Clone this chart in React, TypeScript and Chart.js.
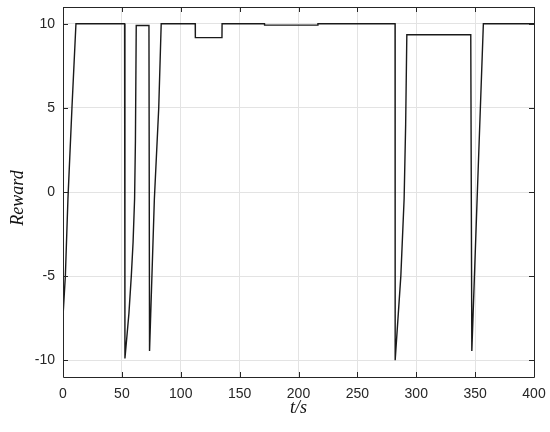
import React, { useEffect, useRef } from "react";
import { Chart, registerables } from "chart.js";

Chart.register(...registerables);

const timeValues = [
  0, 2, 4.2, 7.6, 11,
  52.3, 52.6, 54, 56, 58, 59.5, 60.8, 61.5, 62.2,
  73, 73.5, 77.6, 81.3, 83.4,
  112.3, 112.4, 135, 135.1,
  171.1, 171.2, 216.4, 216.5,
  282, 282.1, 284.5, 286.9, 289.7, 291, 292,
  346.3, 347.2, 351.7, 357, 400,
];
const rewardValues = [
  -7.4, -5, -0.4, 5, 10,
  10, -9.9, -8.8, -7.2, -5, -3, -0.4, 3, 9.9,
  9.9, -9.45, -0.4, 5, 10,
  10, 9.18, 9.18, 10,
  10, 9.92, 9.92, 10,
  10, -10, -7.5, -5, -0.4, 4, 9.35,
  9.35, -9.45, -0.4, 10, 10,
];
const xTicks = [0, 50, 100, 150, 200, 250, 300, 350, 400];
const yTicks = [-10, -5, 0, 5, 10];
const xTitle = "t/s";
const yTitle = "Reward";

const AXIS = "#262626";

const boxPlugin = {
  id: "matlabBox",
  afterDatasetsDraw(chart: any) {
    const { ctx, chartArea } = chart;
    const { left, right, top, bottom } = chartArea;
    const xs = chart.scales.x;
    const ys = chart.scales.y;
    ctx.save();
    ctx.strokeStyle = AXIS;
    ctx.lineWidth = 1;
    ctx.beginPath();
    ctx.rect(Math.round(left) + 0.5, Math.round(top) + 0.5, Math.round(right - left), Math.round(bottom - top));
    ctx.stroke();
    const tl = 5;
    ctx.beginPath();
    xTicks.forEach((v) => {
      const px = Math.round(xs.getPixelForValue(v)) + 0.5;
      ctx.moveTo(px, bottom);
      ctx.lineTo(px, bottom - tl);
      ctx.moveTo(px, top);
      ctx.lineTo(px, top + tl);
    });
    yTicks.forEach((v) => {
      const py = Math.round(ys.getPixelForValue(v)) + 0.5;
      ctx.moveTo(left, py);
      ctx.lineTo(left + tl, py);
      ctx.moveTo(right, py);
      ctx.lineTo(right - tl, py);
    });
    ctx.stroke();

    ctx.fillStyle = "#111";
    ctx.font = "italic 18px 'Liberation Serif', serif";
    ctx.textAlign = "center";
    ctx.textBaseline = "middle";
    ctx.fillText(xTitle, (left + right) / 2, 408);
    ctx.translate(18, (top + bottom) / 2 + 6);
    ctx.rotate(-Math.PI / 2);
    ctx.fillText(yTitle, 0, 0);
    ctx.restore();
  },
};

export default function App() {
  const ref = useRef<HTMLCanvasElement>(null);
  useEffect(() => {
    if (!ref.current) return;
    const data = timeValues.map((t, i) => ({ x: t, y: rewardValues[i] }));
    const chart = new Chart(ref.current, {
      type: "line",
      data: {
        datasets: [
          {
            data,
            borderColor: "#1a1a1a",
            borderWidth: 1.4,
            pointRadius: 0,
            tension: 0,
            fill: false,
          },
        ],
      },
      options: {
        animation: false,
        responsive: false,
        maintainAspectRatio: false,
        layout: { padding: { top: 7, right: 16, left: 0, bottom: 0 } },
        plugins: { legend: { display: false }, tooltip: { enabled: false } },
        scales: {
          x: {
            type: "linear",
            min: 0,
            max: 400,
            afterBuildTicks: (s: any) => {
              s.ticks = xTicks.map((v) => ({ value: v }));
            },
            afterFit: (s: any) => {
              s.height = 55;
              s.paddingLeft = 0;
              s.paddingRight = 0;
            },
            border: { display: false },
            grid: { color: "#e3e3e3", lineWidth: 1, drawTicks: false },
            ticks: {
              padding: 9,
              color: AXIS,
              font: { family: "'Liberation Sans', Arial, sans-serif", size: 14 },
              maxRotation: 0,
            },
          },
          y: {
            type: "linear",
            min: -11,
            max: 11,
            afterBuildTicks: (s: any) => {
              s.ticks = yTicks.map((v) => ({ value: v }));
            },
            afterFit: (s: any) => {
              s.width = 63;
              s.paddingTop = 0;
              s.paddingBottom = 0;
            },
            border: { display: false },
            grid: { color: "#e3e3e3", lineWidth: 1, drawTicks: false },
            ticks: {
              padding: 8,
              color: AXIS,
              font: { family: "'Liberation Sans', Arial, sans-serif", size: 14 },
            },
          },
        },
      },
      plugins: [boxPlugin],
    });
    return () => chart.destroy();
  }, []);
  return (
    <div style={{ position: "absolute", left: 0, top: 0, width: 550, height: 432, background: "#fff" }}>
      <canvas ref={ref} width={550} height={432} style={{ width: 550, height: 432 }} />
    </div>
  );
}
